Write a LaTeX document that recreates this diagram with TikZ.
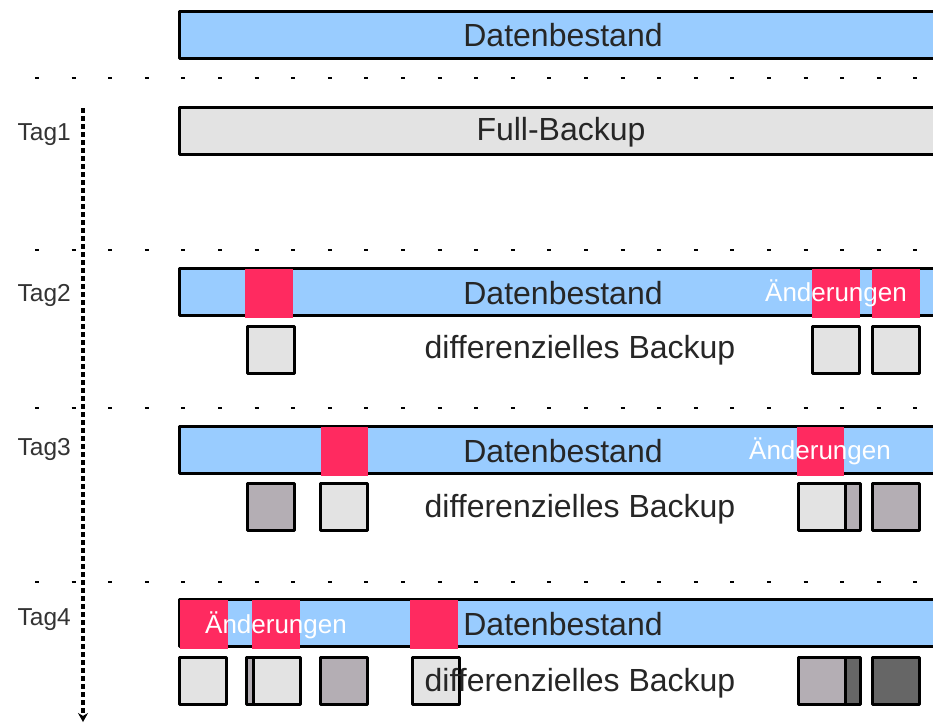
\documentclass[tikz,border=0pt]{standalone}
\usepackage{fontspec}
\setmainfont{Liberation Sans}
\usetikzlibrary{arrows.meta}

\definecolor{datablue}{HTML}{99CCFF}
\definecolor{chgred}{HTML}{FF2A60}
\definecolor{bklight}{HTML}{E3E3E3}
\definecolor{bkmid}{HTML}{B4AEB4}
\definecolor{bkdark}{HTML}{666666}

\tikzset{
  bar/.style={draw=black,line width=3pt,line join=round},
  bkbox/.style={draw=black,line width=3pt,line join=round},
  chg/.style={fill=chgred},
  big/.style={inner sep=0pt,font=\fontsize{32}{36}\selectfont,text=black!85},
  small/.style={inner sep=0pt,font=\fontsize{26}{30}\selectfont,text=white},
  taglbl/.style={inner sep=0pt,anchor=east,font=\fontsize{24.5}{28}\selectfont,text=black!80},
  sep/.style={line width=1.5pt,dash pattern=on 4pt off 32.6pt}
}

% box with outer edge at (x,y), fill colour
\newcommand\bk[3]{\draw[bkbox,fill=#3] (#1+1.5,#2+1.5) rectangle ++(47,47);}
% data bar with outer top edge at y
\newcommand\databar[2]{\draw[bar,fill=#2] (179.5,#1+1.5) rectangle (960,#1+48.5);}

\begin{document}
\begin{tikzpicture}[x=1pt,y=-1pt]
\clip (0,0) rectangle (933,726);

% dotted separators
\foreach \y in {78,250,408,582}
  \draw[sep] (35,\y) -- (933,\y);

% time axis
\coordinate (t0) at (83,108);
\coordinate (t1) at (83,722);
\draw[line width=3.2pt,dash pattern=on 5pt off 3pt,-{Stealth[length=9pt,width=10pt]}] (t0) -- (t1);

\node[taglbl] (tag1) at (71,135) {Tag1};
\node[taglbl] (tag2) at (71,295) {Tag2};
\node[taglbl] (tag3) at (71,449) {Tag3};
\node[taglbl] (tag4) at (71,620) {Tag4};

% Datenbestand
\databar{10}{datablue}
\node[big] (db0) at (563,35) {Datenbestand};

% Tag 1
\databar{106}{bklight}
\node[big] (full) at (561,132) {Full-Backup};

% Tag 2
\databar{267}{datablue}
\fill[chg] (245,269) rectangle (293,318);
\fill[chg] (812,269) rectangle (860,318);
\fill[chg] (872,269) rectangle (920,318);
\node[big] (db2) at (563,293) {Datenbestand};
\node[small] (chg2) at (836,293) {Änderungen};
\bk{246}{325}{bklight}
\bk{811}{325}{bklight}
\bk{871}{325}{bklight}
\node[big] (diff2) at (580,350) {differenzielles Backup};

% Tag 3
\databar{425}{datablue}
\fill[chg] (321,427) rectangle (368,476);
\fill[chg] (797,427) rectangle (844,476);
\node[big] (db3) at (563,451) {Datenbestand};
\node[small] (chg3) at (820,451) {Änderungen};
\bk{246}{482}{bkmid}
\bk{319}{482}{bklight}
\bk{812}{482}{bkmid}
\bk{797}{482}{bklight}
\bk{871}{482}{bkmid}
\node[big] (diff3) at (580,509) {differenzielles Backup};

% Tag 4
\databar{598}{datablue}
\fill[chg] (180,600) rectangle (228,649);
\fill[chg] (252,600) rectangle (300,649);
\fill[chg] (410,600) rectangle (458,649);
\node[big] (db4) at (563,624) {Datenbestand};
\node[small] (chg4) at (276,625) {Änderungen};
\bk{178}{656}{bklight}
\bk{245}{656}{bkmid}
\bk{252}{656}{bklight}
\bk{319}{656}{bkmid}
\bk{411}{656}{bklight}
\bk{812}{656}{bkdark}
\bk{797}{656}{bkmid}
\bk{871}{656}{bkdark}
\node[big] (diff4) at (580,683) {differenzielles Backup};
\end{tikzpicture}
\end{document}
